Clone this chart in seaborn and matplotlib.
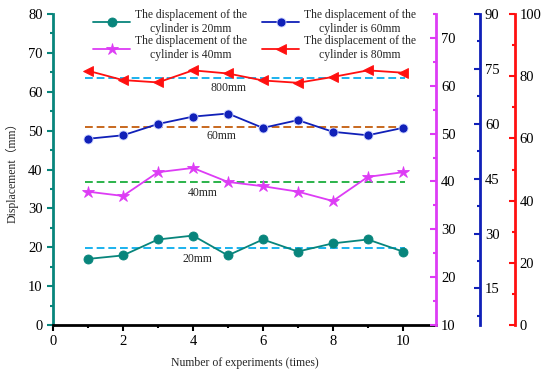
import seaborn as sns
import matplotlib.pyplot as plt
import pandas as pd
from matplotlib.ticker import MultipleLocator
from matplotlib.lines import Line2D

# data
runs = [1, 2, 3, 4, 5, 6, 7, 8, 9, 10]
disp_20 = [17.0, 17.9, 22.0, 23.0, 17.9, 22.0, 18.9, 21.0, 22.0, 18.9]
disp_40 = [34.3, 33.2, 39.3, 40.4, 36.8, 35.7, 34.3, 31.9, 38.1, 39.3]
disp_60 = [47.9, 48.8, 51.7, 53.6, 54.4, 50.7, 52.7, 49.7, 48.8, 50.7]
disp_80 = [65.4, 63.0, 62.4, 65.5, 64.7, 62.9, 62.3, 63.8, 65.5, 64.9]

ref_values = [19.8, 36.8, 50.9, 63.6]
ref_labels = ["20mm", "40mm", "60mm", "800mm"]
ref_colors = ["#1ab2ee", "#2bb34a", "#c8681e", "#1ab2ee"]
ref_text_x = [3.7, 3.85, 4.4, 4.5]
ref_text_y = [17.0, 34.0, 48.6, 61.0]

series = {
    "The displacement of the\ncylinder is 20mm": disp_20,
    "The displacement of the\ncylinder is 40mm": disp_40,
    "The displacement of the\ncylinder is 60mm": disp_60,
    "The displacement of the\ncylinder is 80mm": disp_80,
}
colors = ["#08857c", "#dd3cf5", "#1020b8", "#ff1010"]
markers = ["o", "*", "o", "<"]
msizes = [6.5, 9, 6.5, 7.5]

sns.set_style("ticks")
plt.rcParams['font.family'] = ['Liberation Serif', 'Noto Sans CJK SC', 'DejaVu Sans']
plt.rcParams['font.size'] = 9

fig = plt.figure(figsize=(5.5, 3.76), dpi=100)
ax = fig.add_axes([0.0964, 0.1356, 0.6964, 0.8272])

handles = []
for (name, vals), c, m, ms in zip(series.items(), colors, markers, msizes):
    df = pd.DataFrame({"run": runs, "value": vals})
    mec = "#c8d0ff" if c == "#1020b8" else c
    sns.lineplot(data=df, x="run", y="value", ax=ax, color=c, marker=m,
                 markersize=ms, markeredgecolor=mec, markeredgewidth=0.6,
                 linewidth=1.3, zorder=5)
    handles.append(Line2D([], [], color=c, marker=m, markersize=ms,
                          markeredgecolor=mec, markeredgewidth=0.6, linewidth=1.3, label=name))

for v, lab, c, tx, ty in zip(ref_values, ref_labels, ref_colors, ref_text_x, ref_text_y):
    ax.hlines(v, 0.9, 10.05, colors=c, linestyles=(0, (4, 2)), linewidth=1.4, zorder=3)
    ax.text(tx, ty, lab, fontsize=8.5, ha="left", va="center")

ax.set_xlim(0, 10.95)
ax.set_ylim(0, 80)
ax.xaxis.set_major_locator(MultipleLocator(2))
ax.xaxis.set_minor_locator(MultipleLocator(1))
ax.yaxis.set_major_locator(MultipleLocator(10))
ax.yaxis.set_minor_locator(MultipleLocator(5))
ax.set_xlabel("Number of experiments (times)", fontsize=8.5, labelpad=6)
ax.set_ylabel("Displacement（mm）", fontsize=8.5, labelpad=7)

for s in ["top", "right"]:
    ax.spines[s].set_visible(False)
ax.spines["left"].set_color("#08857c")
ax.spines["left"].set_linewidth(2)
ax.spines["bottom"].set_color("black")
ax.spines["bottom"].set_linewidth(2)
ax.tick_params(axis="y", which="both", colors="#08857c", labelcolor="black", direction="out", width=1.5)
ax.tick_params(axis="y", which="major", length=4, labelsize=10.5)
ax.tick_params(axis="y", which="minor", length=2)
ax.tick_params(axis="x", which="both", colors="black", direction="out", width=1.5, labelsize=10.5)
ax.tick_params(axis="x", which="major", length=4)
ax.tick_params(axis="x", which="minor", length=2)

# extra right axes
extra = [
    ("#dd3cf5", 1.0, (10, 75), 10, 5),
    ("#1020b8", 1.115, (5, 90), 15, 7.5),
    ("#ff1010", 1.206, (0, 100), 20, 10),
]
for c, pos, lim, major, minor in extra:
    tw = ax.twinx()
    tw.set_ylim(*lim)
    tw.yaxis.set_major_locator(MultipleLocator(major))
    tw.yaxis.set_minor_locator(MultipleLocator(minor))
    for s in ["top", "left", "bottom"]:
        tw.spines[s].set_visible(False)
    tw.spines["right"].set_position(("axes", pos))
    tw.spines["right"].set_color(c)
    tw.spines["right"].set_linewidth(2)
    tw.tick_params(axis="y", which="both", colors=c, labelcolor="black", direction="in", width=1.5, labelsize=10.5)
    tw.tick_params(axis="y", which="major", length=4)
    tw.tick_params(axis="y", which="minor", length=2)

leg = ax.legend(handles=handles, ncol=2, loc="upper center", bbox_to_anchor=(0.526, 1.05),
                frameon=False, fontsize=8.4, handlelength=3.2, columnspacing=1.3,
                labelspacing=0.05, handletextpad=0.4)
for t in leg.get_texts():
    t.set_multialignment("center")

fig.savefig("out.png", dpi=100)
